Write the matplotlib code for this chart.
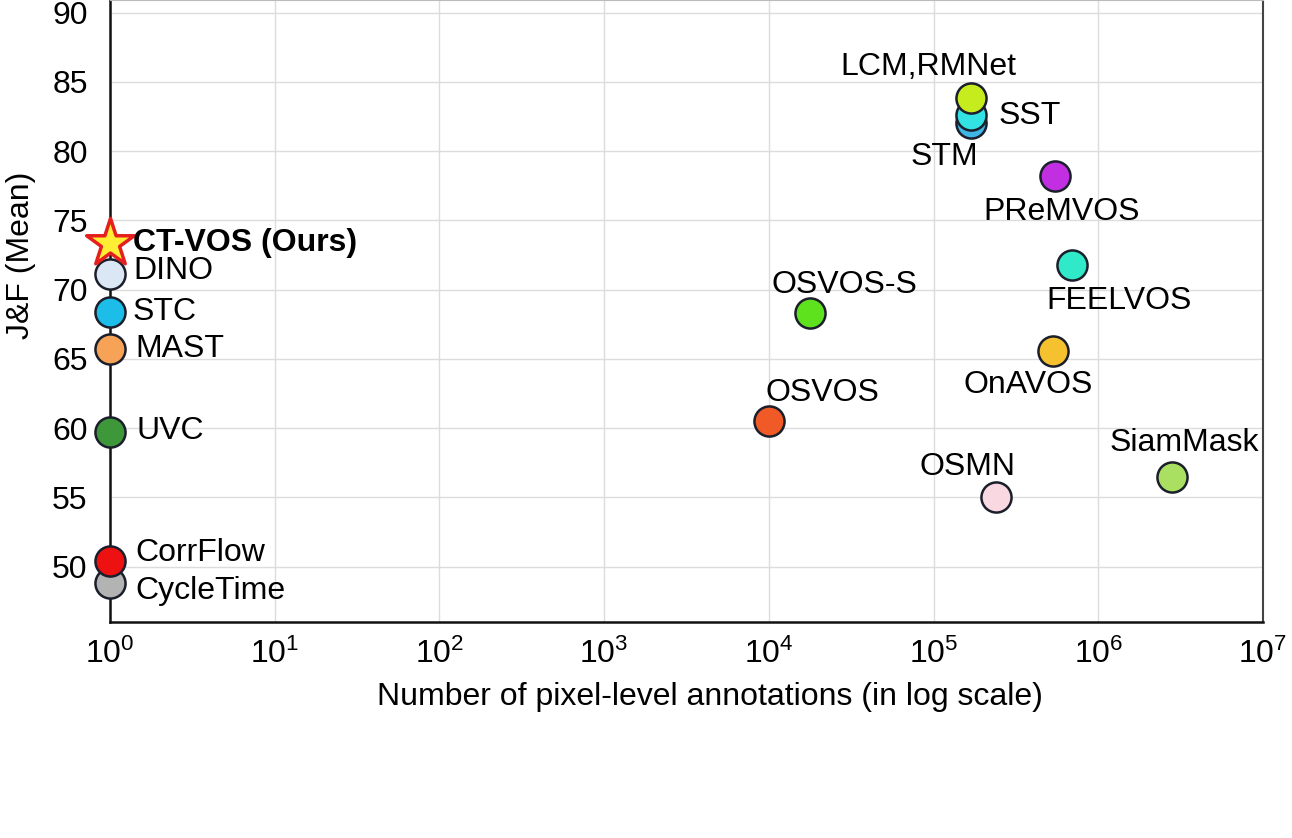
import numpy as np
import matplotlib.pyplot as plt

plt.rcParams['font.family'] = ['Liberation Sans', 'DejaVu Sans']
plt.rcParams['mathtext.fontset'] = 'custom'
plt.rcParams['mathtext.rm'] = 'Liberation Sans'

# methods, annotations (x) and J&F mean (y)
names = ['CycleTime', 'CorrFlow', 'UVC', 'MAST', 'STC', 'DINO',
         'STM', 'SST', 'LCM,RMNet', 'PReMVOS', 'FEELVOS', 'OSVOS-S',
         'OnAVOS', 'OSVOS', 'OSMN', 'SiamMask']
annots = [1, 1, 1, 1, 1, 1,
          1.7e5, 1.7e5, 1.7e5, 5.5e5, 6.9e5, 1.78e4,
          5.3e5, 1.0e4, 2.4e5, 2.8e6]
scores = [48.8, 50.4, 59.7, 65.7, 68.4, 71.1,
          82.0, 82.6, 83.8, 78.2, 71.8, 68.3,
          65.6, 60.5, 55.0, 56.5]
colors = ['#b3b3b3', '#ee1111', '#3e983a', '#f6a257', '#1cbde9', '#dce7f6',
          '#3fb6e6', '#33e2e2', '#c6ec1e', '#c22fe3', '#2fe9c8', '#5fe21e',
          '#f6c12e', '#f05a26', '#f9d8e2', '#a9e062']
# label offsets in pixels and alignment
offsets = [(25, -8), (25, 8), (27, 1), (25, 0), (23, 0), (23, 3),
           (-27, -34), (27, -1), (-43, 31), (6, -36), (47, -36), (34, 28),
           (-25, -34), (54, 28), (-29, 30), (12, 34)]
aligns = ['left'] * 6 + ['center', 'left'] + ['center'] * 8

ours_name = 'CT-VOS (Ours)'
ours_x = 1
ours_y = 73.4

fs = 23

fig = plt.figure(figsize=(12.92, 8.38), dpi=100)
ax = fig.add_axes([0.0851, 0.2578, 0.8924, 0.742])

ax.set_xscale('log')
ax.set_xlim(1, 1e7)
ax.set_ylim(46, 90.9)
ax.set_yticks(np.arange(50, 91, 5))
ax.minorticks_off()
ax.grid(True, color='#dcdcdc', linewidth=1)
ax.set_axisbelow(True)
ax.tick_params(length=0, labelsize=fs)
ax.tick_params(axis='y', pad=16)
ax.tick_params(axis='x', pad=12)

for side in ['left', 'bottom']:
    ax.spines[side].set_color('#111111')
    ax.spines[side].set_linewidth(1.8)
ax.spines['right'].set_color('#444444')
ax.spines['right'].set_linewidth(1.5)
ax.spines['top'].set_color('#bbbbbb')

for n, x, y, c, off, ha in zip(names, annots, scores, colors, offsets, aligns):
    ax.scatter(x, y, s=470, color=c, edgecolor='#1b1f2b', linewidth=1.8,
               zorder=3, clip_on=False)
    ax.annotate(n, (x, y), xytext=off, textcoords='offset pixels',
                ha=ha, va='center', fontsize=fs, zorder=4)

ax.scatter(ours_x, ours_y, marker='*', s=1300, color='#ffee33',
           edgecolor='#e51e1e', linewidth=2.5, zorder=5, clip_on=False)
ax.annotate(ours_name, (ours_x, ours_y), xytext=(23, 0),
            textcoords='offset pixels', ha='left', va='center',
            fontsize=fs, fontweight='bold', zorder=5)

ax.set_xlabel('Number of pixel-level annotations (in log scale)', fontsize=fs)
ax.xaxis.set_label_coords(0.52, -0.097)
ax.set_ylabel('J&F (Mean)', fontsize=fs)
ax.yaxis.set_label_coords(-0.064, 0.59)

fig.savefig('out.png', dpi=100, facecolor='white')
